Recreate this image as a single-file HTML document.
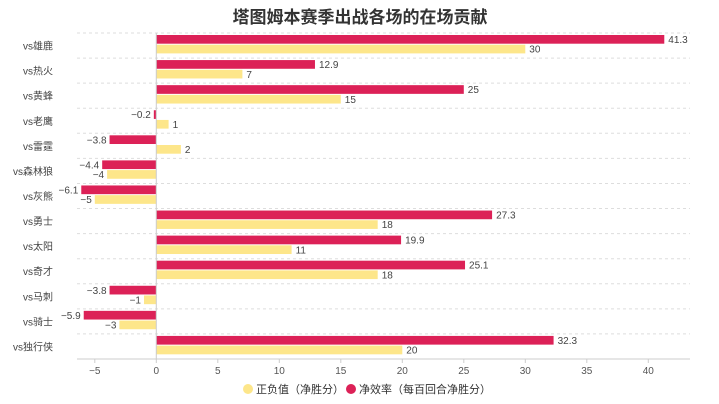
<!DOCTYPE html>
<html><head><meta charset="utf-8"><style>
body{margin:0;background:#fff;}
svg{display:block;font-family:"Liberation Sans","Noto Sans CJK SC",sans-serif;}
</style></head><body>
<svg id="c" width="719" height="404">
<text x="360" y="23" text-anchor="middle" font-size="17" font-weight="bold" fill="#333">塔图姆本赛季出战各场的在场贡献</text>
<g id="grid"></g><g id="bars"></g><g id="axis"></g>
<g>
<g><circle cx="248" cy="389" r="5" fill="#fde68a"/><text x="256" y="393" font-size="11" fill="#333">正负值（净胜分）</text></g>
<g><circle cx="351" cy="389" r="5" fill="#dc2157"/><text x="359" y="393" font-size="11" fill="#333">净效率（每百回合净胜分）</text></g>
</g>
</svg>
<script>
const categories=["vs雄鹿","vs热火","vs黄蜂","vs老鹰","vs雷霆","vs森林狼","vs灰熊","vs勇士","vs太阳","vs奇才","vs马刺","vs骑士","vs独行侠"];
const netRating=[41.3,12.9,25,-0.2,-3.8,-4.4,-6.1,27.3,19.9,25.1,-3.8,-5.9,32.3];
const plusMinus=[30,7,15,1,2,-4,-5,18,11,18,-1,-3,20];
const ticks=[-5,0,5,10,15,20,25,30,35,40];
const NS="http://www.w3.org/2000/svg";
const x0=156.3,ppu=12.3,plotTop=33,plotBottom=359,plotLeft=77,plotRight=690;
const rh=(plotBottom-plotTop)/categories.length;
const xs=v=>x0+v*ppu;
function mk(t,a,p){const e=document.createElementNS(NS,t);for(const k in a)e.setAttribute(k,a[k]);p.appendChild(e);return e;}
const G=document.getElementById('grid'),B=document.getElementById('bars'),A=document.getElementById('axis');
for(let i=0;i<categories.length;i++){
 const y=plotTop+i*rh;
 const l=mk('line',{x1:plotLeft,x2:plotRight,y1:y,y2:y,stroke:'#ddd','stroke-dasharray':'3,3'},G);
 
 
 const t=mk('text',{x:53,y:y+rh/2+4,'text-anchor':'end','font-size':10,fill:'#444'},A);t.textContent=categories[i];
 
 
 [[netRating[i],'#dc2157',2],[plusMinus[i],'#fde68a',11.7]].forEach(([v,c,o],k)=>{
  const xa=Math.min(xs(0),xs(v)),w=Math.abs(xs(v)-xs(0));
  const r=mk('rect',{x:xa,y:y+o,width:w,height:8.7,fill:c},B);
  
  
  const tx=mk('text',{x:v>=0?xs(v)+4:xs(v)-3,y:y+o+8,'text-anchor':v>=0?'start':'end','font-size':10,fill:'#444'},B);
  tx.textContent=String(v).replace('-','−');
  
  
 });
}
mk('line',{x1:x0,x2:x0,y1:plotTop,y2:plotBottom,stroke:'#ccc'},A);
mk('line',{x1:plotLeft,x2:plotRight,y1:plotBottom,y2:plotBottom,stroke:'#ccc'},A);
ticks.forEach(v=>{
 mk('line',{x1:xs(v),x2:xs(v),y1:plotBottom,y2:plotBottom+4,stroke:'#ccc'},A);
 const t=mk('text',{x:xs(v),y:plotBottom+15,'text-anchor':'middle','font-size':10,fill:'#555'},A);t.textContent=String(v).replace('-','−');
 
 
});
</script>
</body></html>
